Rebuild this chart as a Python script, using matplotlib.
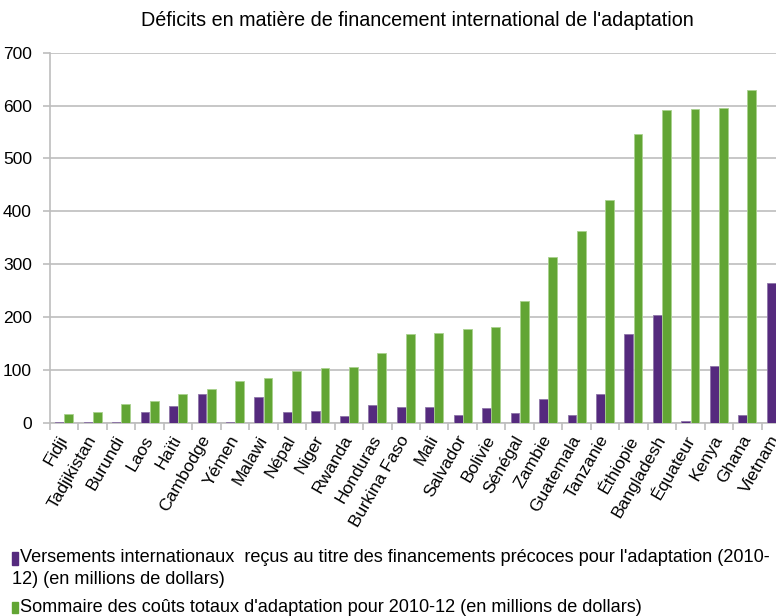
import matplotlib.pyplot as plt
from matplotlib.patches import Rectangle
import numpy as np

plt.rcParams['font.family'] = ['Liberation Sans', 'DejaVu Sans']

pays = ['Fidji', 'Tadjikistan', 'Burundi', 'Laos', 'Haïti', 'Cambodge', 'Yémen',
        'Malawi', 'Népal', 'Niger', 'Rwanda', 'Honduras', 'Burkina Faso', 'Mali',
        'Salvador', 'Bolivie', 'Sénégal', 'Zambie', 'Guatemala', 'Tanzanie',
        'Éthiopie', 'Bangladesh', 'Équateur', 'Kenya', 'Ghana', 'Vietnam']

# versements reçus (millions $)
versements = [1, 1, 1, 20, 32, 55, 1, 48, 20, 22, 13, 34, 30, 30,
              15, 27, 18, 44, 15, 55, 168, 203, 4, 107, 15, 264]
# coûts totaux d'adaptation (millions $)
couts = [17, 20, 36, 41, 55, 64, 78, 85, 97, 104, 106, 132, 167, 170,
         177, 182, 230, 313, 362, 421, 547, 592, 594, 596, 629, 640]

violet = '#552A7E'
vert = '#62A534'

fig = plt.figure(figsize=(7.76, 6.16), dpi=100)
ax = fig.add_axes([50 / 776, 193.3 / 616, 740 / 776, 370 / 616])

x = np.arange(len(pays))
ax.bar(x + 0.34, versements, width=0.31, color=violet, edgecolor='#8E76A8', linewidth=0.6, zorder=3)
ax.bar(x + 0.66, couts, width=0.31, color=vert, edgecolor='#A9D18E', linewidth=0.6, zorder=3)

ax.set_xlim(0, len(pays))
ax.set_ylim(0, 700)
ax.set_yticks(range(0, 701, 100))
ax.yaxis.grid(True, color='#BEBEBE', linewidth=1.2, zorder=0)

# graduations entre les catégories, étiquettes au centre
ax.set_xticks(np.arange(len(pays) + 1))
ax.set_xticklabels([])
ax.set_xticks(x + 0.5, minor=True)
ax.set_xticklabels(pays, minor=True, rotation=60, ha='right', va='center',
                   rotation_mode='anchor', fontsize=12.6)
ax.tick_params(axis='x', which='minor', length=0, pad=10)
ax.tick_params(axis='x', which='major', length=5, color='#BEBEBE', width=1.2)
ax.tick_params(axis='y', length=5, color='#BEBEBE', width=1.2, labelsize=12.5, pad=8)

for s in ['top', 'right']:
    ax.spines[s].set_visible(False)
for s in ['left', 'bottom']:
    ax.spines[s].set_color('#BEBEBE')
    ax.spines[s].set_linewidth(1.2)

fig.text(417 / 776, 1 - 20 / 616,
         "Déficits en matière de financement international de l'adaptation",
         ha='center', va='center', fontsize=14.2)

# légende
fig.add_artist(Rectangle((11.7 / 776, 1 - 565 / 616), 6.6 / 776, 13.3 / 616,
                         transform=fig.transFigure, color=violet))
fig.text(20 / 776, 1 - 558 / 616,
         "Versements internationaux  reçus au titre des financements précoces pour l'adaptation (2010-",
         ha='left', va='center', fontsize=13.1)
fig.text(12 / 776, 1 - 580 / 616, "12) (en millions de dollars)",
         ha='left', va='center', fontsize=13.1)
fig.add_artist(Rectangle((11.7 / 776, 1 - 613.3 / 616), 6.6 / 776, 11.6 / 616,
                         transform=fig.transFigure, color=vert))
fig.text(20 / 776, 1 - 607 / 616,
         "Sommaire des coûts totaux d'adaptation pour 2010-12 (en millions de dollars)",
         ha='left', va='center', fontsize=13.1)

fig.savefig('out.png', dpi=100)
